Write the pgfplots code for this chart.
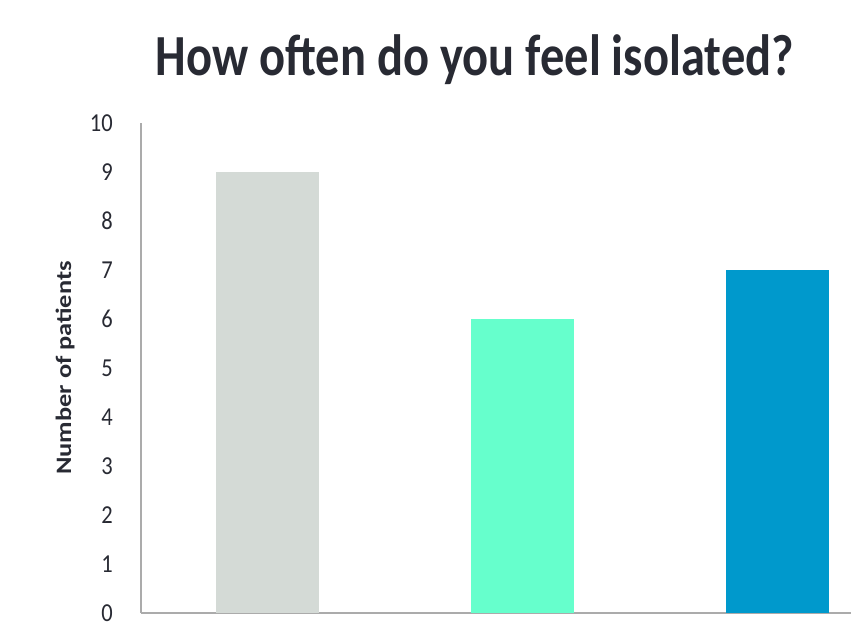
\documentclass[border=0pt]{standalone}
\usepackage{pgfplots}
\pgfplotsset{compat=1.18}
\usepackage{graphicx}
\usepackage{fontspec}
\setmainfont{Carlito}
\definecolor{txt}{HTML}{282A33}
\definecolor{axl}{HTML}{ABABAB}
\definecolor{barA}{HTML}{D4DAD6}
\definecolor{barB}{HTML}{66FFCC}
\definecolor{barC}{HTML}{0099CC}
\begin{document}
\begin{tikzpicture}
\begin{axis}[
  at={(0pt,0pt)}, anchor=south west,
  scale only axis, width=710pt, height=490pt,
  xmin=-0.496, xmax=2.29, ymin=0, ymax=10,
  ytick={0,1,...,10}, xtick=\empty,
  axis x line*=bottom, axis y line*=left,
  axis line style={axl, line width=1.3pt, -},
  major tick length=0pt,
  /pgf/number format/assume math mode=true,
  yticklabel style={font=\fontsize{22.5}{26}\selectfont, text=txt, anchor=east, inner sep=0pt, xshift=-28pt, yscale=1.15, transform shape},
  ylabel={\scalebox{1.2}[1]{Number of patients}},
  ylabel style={font=\bfseries\fontsize{22}{26}\selectfont, text=txt, at={(axis description cs:-0.107,0.5)}, anchor=center},
  title={\scalebox{1}[1.2]{How often do you feel isolated?}},
  title style={font=\bfseries\fontsize{48.5}{56}\selectfont, text=txt, at={(axis description cs:0.47,1)}, anchor=base, yshift=41pt},
  ybar, bar width=103pt, bar shift=0pt,
]
\addplot[fill=barA, draw=none] coordinates {(0,9)};
\addplot[fill=barB, draw=none] coordinates {(1,6)};
\addplot[fill=barC, draw=none] coordinates {(2,7)};
\end{axis}
\pgfresetboundingbox
\path (-141pt,-10pt) rectangle (710pt,613pt);
\end{tikzpicture}
\end{document}
